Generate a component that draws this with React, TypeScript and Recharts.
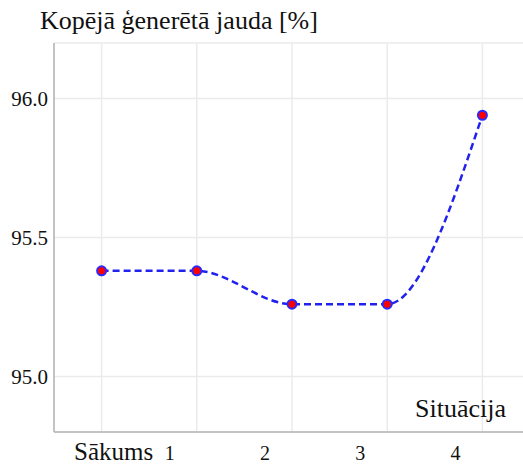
import { LineChart, Line, CartesianGrid, XAxis, YAxis } from 'recharts'

const situations = ['Sākums', '1', '2', '3', '4']
const powerShare = [95.38, 95.38, 95.26, 95.26, 95.94]
const yTicks = [95.0, 95.5, 96.0]

const data = situations.map((name, i) => ({ idx: i, name, value: powerShare[i] }))

const FONT =
  "'Liberation Serif', Tinos, 'Times New Roman', Times, 'Nimbus Roman', 'Nimbus Roman No9 L', 'Noto Serif', 'DejaVu Serif', FreeSerif, serif"
const FRAME = '#b4b4b4'

function BottomTick(props: any) {
  const { x, y, payload } = props
  const i = payload.value as number
  const first = i === 0
  return (
    <text
      x={x + (first ? 12 : -27)}
      y={y}
      dy={28}
      textAnchor="middle"
      style={{ fontFamily: FONT, fontSize: first ? 25 : 20 }}
      fill="#111"
    >
      {situations[i]}
    </text>
  )
}

function TopTick(props: any) {
  const { x, y } = props
  return <line x1={x} x2={x} y1={y} y2={y + 7} stroke="#a8a8a8" strokeWidth={1.5} />
}

export default function App() {
  return (
    <div
      style={{
        position: 'absolute',
        left: 0,
        top: 0,
        width: 523,
        height: 465,
        overflow: 'hidden',
        background: '#fff',
        fontFamily: FONT,
      }}
    >
      <div
        style={{
          position: 'absolute',
          left: 40,
          top: 6,
          fontSize: 26,
          lineHeight: '30px',
          color: '#111',
          whiteSpace: 'nowrap',
        }}
      >
        Kopējā ģenerētā jauda [%]
      </div>
      <LineChart
        width={530}
        height={465}
        data={data}
        margin={{ top: 43, right: 0, bottom: 0, left: 0 }}
      >
        <CartesianGrid stroke="#ebebeb" strokeWidth={1.5} />
        <XAxis
          dataKey="idx"
          type="number"
          domain={[-0.5, 4.5]}
          ticks={[0, 1, 2, 3, 4]}
          height={33}
          axisLine={{ stroke: FRAME, strokeWidth: 1.5 }}
          tickLine={false}
          tickSize={0}
          tickMargin={0}
          tick={<BottomTick />}
        />
        <XAxis
          xAxisId="top"
          dataKey="idx"
          type="number"
          orientation="top"
          domain={[-0.5, 4.5]}
          ticks={[0, 1, 2, 3, 4]}
          height={0}
          axisLine={{ stroke: FRAME, strokeWidth: 2 }}
          tickLine={false}
          tickSize={0}
          tickMargin={0}
          tick={<TopTick />}
        />
        <YAxis
          domain={[94.8, 96.2]}
          ticks={yTicks}
          width={54}
          axisLine={{ stroke: FRAME, strokeWidth: 1.5 }}
          tickLine={false}
          tickSize={0}
          tickMargin={6}
          tickFormatter={(v: number) => v.toFixed(1)}
          tick={{ fill: '#111', fontSize: 21, style: { fontFamily: FONT } }}
        />
        <Line
          type="monotone"
          dataKey="value"
          stroke="#2222ee"
          strokeWidth={2.5}
          strokeDasharray="7 4"
          dot={{ r: 4.5, fill: '#ff0000', stroke: '#2a2aff', strokeWidth: 2, strokeDasharray: '' }}
          isAnimationActive={false}
        />
      </LineChart>
      <div
        style={{
          position: 'absolute',
          left: 415,
          top: 394,
          fontSize: 26,
          lineHeight: '30px',
          color: '#111',
          whiteSpace: 'nowrap',
        }}
      >
        Situācija
      </div>
    </div>
  )
}
